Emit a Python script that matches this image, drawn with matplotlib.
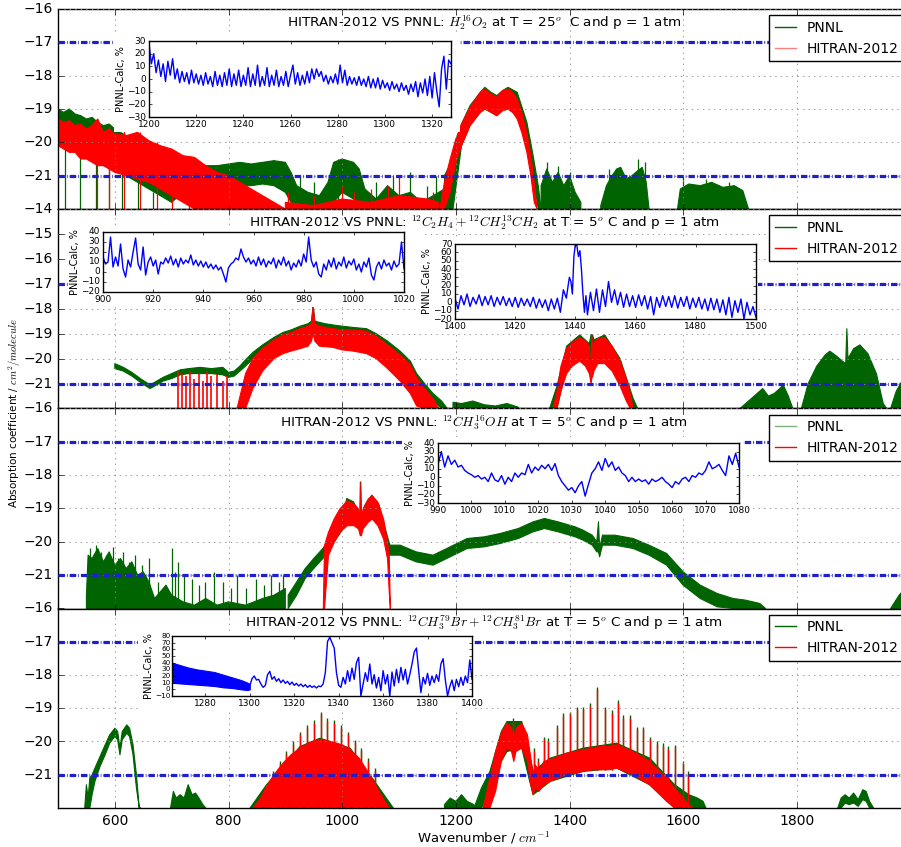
import numpy as np
import matplotlib
matplotlib.use('Agg')
import matplotlib.pyplot as plt
from matplotlib.patches import Rectangle
from matplotlib.lines import Line2D

plt.style.use('classic')
plt.rcParams['font.family'] = ['DejaVu Sans']
plt.rcParams['mathtext.fontset'] = 'cm'
plt.rcParams['figure.facecolor'] = 'white'
plt.rcParams['savefig.facecolor'] = 'white'

N = np.nan
GREEN = '#006400'
RED = '#ff0000'
BLUE = '#1f1fcc'

# ---------------- panel 1: H2O2 ----------------
h2o2_pnnl_x = [500, 510, 520, 530, 540, 550, 560, 570, 580, 590, 600, 610, 620, 630, 640, 650, 660, 670, 680, 690, 700, N,
               700, 720, 740, 760, 780, 800, 820, 840, 860, 880, 900, 910, 920, 940, 960, 975, 985, 1000, 1010, 1020, 1030, 1040, N,
               1040, 1060, 1080, 1100, 1120, 1140, 1160, 1180, N,
               1180, 1195, 1210, 1225, 1243, 1251, 1262, 1272, 1282, 1292, 1308, 1325, 1336, 1345, 1350, N,
               1350, 1360, 1370, 1380, 1390, 1400, 1410, 1420, N,
               1455, 1465, 1475, 1483, 1490, 1500, 1510, 1520, 1528, 1535, 1540, N,
               1590, 1595, 1610, 1630, 1650, 1670, 1690, 1705, 1715]
h2o2_pnnl_hi = [-19.0, -19.1, -19.0, -19.15, -19.2, -19.3, -19.25, -19.4, -19.5, -19.45, -19.6, -19.7, -19.8, -19.85, -19.95, -20.1, -20.2, -20.35, -20.5, -20.6, -20.7, N,
                -20.9, -20.7, -20.75, -20.7, -20.7, -20.65, -20.6, -20.65, -20.6, -20.55, -20.6, -20.9, -21.3, -21.5, -21.6, -21.2, -20.6, -20.5, -20.55, -20.6, -20.8, -21.4, N,
                -21.4, -21.7, -21.3, -21.6, -21.5, -21.8, -21.6, -21.4, N,
                -21.0, -20.5, -19.45, -18.9, -18.5, -18.35, -18.5, -18.6, -18.45, -18.35, -18.5, -19.4, -20.4, -21.3, -22, N,
                -21.3, -20.8, -21.2, -20.9, -21.3, -21.0, -21.5, -21.8, N,
                -21.9, -21.3, -21.0, -20.8, -20.75, -21.1, -21.0, -20.85, -20.75, -21.2, -22, N,
                -22, -21.4, -21.25, -21.3, -21.2, -21.35, -21.3, -21.45, -22]
h2o2_pnnl_lo = [-19.9, -20.0, -20.2, -20.1, -20.3, -20.4, -20.5, -20.6, -20.7, -20.6, -20.8, -20.9, -21.0, -21.1, -21.2, -21.3, -21.4, -21.5, -21.6, -21.7, -21.8, N,
                -21.8, -21.5, -21.3, -21.35, -21.3, -21.3, -21.3, -21.3, -21.25, -21.3, -21.5, -21.8, -22, -22, -22, -22, -21.8, -21.5, -21.6, -21.7, -21.9, -22, N,
                -22, -22, -22, -22, -22, -22, -22, -22, N,
                -22, -22, -20.1, -19.5, -19.1, -19.0, -19.1, -19.2, -19.05, -19.0, -19.2, -20.1, -21.0, -22, -22, N,
                -22, -22, -22, -22, -22, -22, -22, -22, N,
                -22, -22, -22, -22, -22, -22, -22, -22, -22, -22, -22, N,
                -22, -22, -22, -22, -22, -22, -22, -22, -22]
h2o2_pnnl_spike_x = [512, 538, 566, 590, 612, 640, 668, 905, 925, 950, 992, 1060, 1090, 1120, 1150, 1165,
                     1360, 1380, 1400, 1470, 1520, 1532, 1600, 1640, 1680]
h2o2_pnnl_spike_top = [-20.0, -20.2, -20.5, -20.6, -20.9, -21.2, -21.5, -20.9, -21.0, -21.2, -20.5, -21.2, -21.0, -20.9, -21.3, -21.0,
                       -20.6, -20.7, -20.9, -20.8, -20.5, -20.6, -21.0, -21.1, -21.2]

h2o2_hitran_x = [500, 510, 520, 530, 540, 550, 560, 570, 580, 590, 600, 620, 640, 660, 680, 700, 720, 740, 760, 780, 800, 820, 840, 860, 880, 900, N,
                 900, 950, 1000, 1050, 1100, 1150, 1170, N,
                 1172, 1180, 1190, 1200, 1210, 1225, 1243, 1251, 1262, 1272, 1282, 1292, 1300, 1308, 1316, 1325, 1332, 1338, 1343]
h2o2_hitran_hi = [-19.3, -19.4, -19.35, -19.5, -19.45, -19.6, -19.5, -19.3, -19.7, -19.6, -19.75, -19.8, -19.7, -19.95, -20.1, -20.2, -20.4, -20.45, -20.7, -20.9, -21.0, -21.2, -21.4, -21.6, -21.8, -22.0, N,
                  -21.8, -21.9, -21.7, -21.8, -21.6, -21.7, -21.8, N,
                  -22, -21.2, -20.5, -19.9, -19.45, -18.95, -18.5, -18.4, -18.55, -18.65, -18.45, -18.4, -18.5, -18.7, -19.1, -19.7, -20.4, -21.2, -22]
h2o2_hitran_lo = [-20.1, -20.2, -20.3, -20.3, -20.5, -20.5, -20.6, -20.7, -20.7, -20.8, -20.9, -21.0, -21.1, -21.2, -21.4, -21.6, -21.8, -22, -22, -22, -22, -22, -22, -22, -22, -22, N,
                  -22, -22, -22, -22, -22, -22, -22, N,
                  -22, -22, -21.5, -20.6, -20.1, -19.5, -19.1, -19.0, -19.1, -19.2, -19.05, -19.0, -19.1, -19.3, -19.7, -20.3, -21.0, -21.8, -22]
h2o2_hitran_spike_x = [568, 590, 616, 644, 674, 700, 730, 905, 950, 1000, 1020, 1050, 1080, 1100, 1120, 1140, 1160]
h2o2_hitran_spike_top = [-19.3, -19.5, -19.6, -19.7, -20.0, -20.3, -20.5, -21.5, -21.6, -21.3, -21.5, -21.4, -21.3, -21.0, -21.6, -21.7, -21.5]

# ---------------- panel 2: C2H4 ----------------
c2h4_pnnl_x = [600, 615, 630, 645, 655, 662, 670, 685, 700, 715, 730, 750, 770, 790, 800, 810, 820, 830, 843, 860, 880, 896, 910, 926,
               940, 946, 949, 952, 970, 984, 1000, 1020, 1043, 1060, 1080, 1102, 1120, 1131, 1145, 1160, 1175, 1185, N,
               1195, 1210, 1230, 1250, 1270, 1290, 1310, N,
               1365, 1378, 1395, 1418, 1435, 1439, 1443, 1462, 1489, 1512, 1520, N,
               1700, 1715, 1730, 1740, 1750, 1760, 1770, 1776, 1785, 1793, N,
               1808, 1820, 1835, 1850, 1858, 1870, 1880, 1886, 1888, 1890, 1900, 1911, 1925, 1940, 1952, 1958, N,
               1965, 1975, 1985, 2000]
c2h4_pnnl_hi = [-20.2, -20.35, -20.55, -20.8, -20.95, -21.05, -20.95, -20.75, -20.6, -20.45, -20.4, -20.35, -20.4, -20.35, -20.55, -20.5, -20.3, -20.05, -19.75, -19.45, -19.15, -18.95, -18.85, -18.7,
                -18.6, -18.5, -17.85, -18.5, -18.6, -18.65, -18.7, -18.75, -18.8, -19.0, -19.3, -19.7, -20.1, -20.6, -21.0, -21.4, -21.7, -22, N,
                -21.75, -21.8, -21.7, -21.85, -21.9, -21.8, -21.95, N,
                -22, -21.1, -19.5, -19.05, -19.4, -18.9, -19.25, -19.05, -20.0, -21.6, -22, N,
                -22, -21.7, -21.4, -21.2, -21.5, -21.4, -21.2, -21.05, -21.5, -22, N,
                -22, -21.0, -20.3, -19.85, -19.7, -19.9, -20.1, -20.2, -18.8, -20.0, -19.6, -19.45, -19.8, -20.6, -21.8, -22, N,
                -22, -21.3, -20.9, -20.5]
c2h4_pnnl_lo = [-20.4, -20.5, -20.7, -20.95, -21.1, -21.2, -21.1, -20.9, -20.8, -20.65, -20.6, -20.6, -20.6, -20.65, -20.75, -20.7, -20.5, -20.3, -20.0, -19.7, -19.4, -19.25, -19.1, -19.0,
                -18.9, -18.8, -18.7, -18.8, -18.9, -18.95, -19.0, -19.05, -19.1, -19.3, -19.6, -20.0, -20.4, -20.9, -21.3, -21.7, -22, -22, N,
                -22, -22, -22, -22, -22, -22, -22, N,
                -22, -22, -20.3, -19.9, -20.3, -20.2, -20.1, -19.9, -20.9, -22, -22, N,
                -22, -22, -22, -22, -22, -22, -22, -22, -22, -22, N,
                -22, -22, -22, -22, -22, -22, -22, -22, -22, -22, -22, -22, -22, -22, -22, -22, N,
                -22, -22, -22, -22]

c2h4_hitran_x = [815, 830, 843, 860, 880, 896, 910, 926, 940, 946, 949, 952, 960, 984, 1000, 1020, 1043, 1060, 1080, 1102, 1120, 1131, 1145, 1160, 1170, N,
                 1371, 1378, 1385, 1395, 1405, 1418, 1428, 1435, 1438, 1439, 1441, 1443, 1450, 1462, 1475, 1489, 1500, 1507, 1512]
c2h4_hitran_hi = [-22, -20.6, -20.0, -19.6, -19.25, -19.05, -18.95, -18.8, -18.7, -18.6, -17.9, -18.6, -18.7, -18.8, -18.85, -18.85, -18.9, -19.1, -19.45, -19.85, -20.25, -20.75, -21.2, -21.6, -22, N,
                  -22, -21.3, -20.3, -19.6, -19.35, -19.15, -19.3, -19.5, -20.9, -18.95, -19.6, -19.35, -19.2, -19.15, -19.5, -20.1, -20.8, -21.4, -22]
c2h4_hitran_lo = [-22, -22, -21.2, -20.5, -20.0, -19.8, -19.7, -19.6, -19.5, -19.3, -19.0, -19.3, -19.5, -19.55, -19.65, -19.7, -19.8, -20.0, -20.4, -20.9, -21.4, -21.9, -22, -22, -22, N,
                  -22, -22, -21.3, -20.6, -20.3, -20.1, -20.3, -20.6, -21.0, -20.8, -20.7, -20.5, -20.2, -20.2, -20.5, -21.1, -21.7, -22, -22]
c2h4_hitran_spike_x = [712, 718, 725, 732, 740, 748, 755, 762, 770, 780, 790, 797]
c2h4_hitran_spike_top = [-20.5, -20.6, -20.7, -20.5, -20.8, -20.6, -20.9, -20.5, -20.7, -20.6, -20.9, -20.7]

# ---------------- panel 3: CH3OH ----------------
ch3oh_pnnl_x = [550, 553, 560, 570, 580, 590, 600, 610, 620, 630, 640, 650, 660, 670, 680, 690, 700, 720, 740, 760, 780, 800, 830, 860, 880, 900, N,
                905, 920, 935, 950, 966, 984, 1000, 1008, 1020, 1031, 1032, 1034, 1040, 1052, 1065, 1079, 1084, 1102, 1130, 1160, 1190, 1220, 1250,
                1278, 1310, 1336, 1356, 1380, 1410, 1424, 1440, 1448, 1451, 1453, 1458, 1480, 1512, 1540, 1571, 1600, 1630, 1660, 1688, 1710, 1735, 1745, N,
                1965, 1980, 2000]
ch3oh_pnnl_hi = [-21.6, -20.4, -20.5, -20.2, -20.6, -20.3, -20.7, -20.5, -20.8, -20.6, -21.0, -20.9, -21.2, -21.7, -21.5, -21.3, -21.6, -21.8, -21.9, -21.7, -21.9, -21.8, -21.9, -21.7, -21.6, -21.4, N,
                 -21.6, -21.2, -20.8, -20.5, -20.2, -19.75, -19.35, -18.7, -18.8, -19.2, -18.2, -19.25, -18.9, -18.6, -18.9, -19.8, -20.1, -20.1, -20.3, -20.4, -20.15, -19.9, -19.85,
                 -19.75, -19.6, -19.4, -19.3, -19.4, -19.55, -19.65, -19.8, -20.0, -19.4, -20.2, -19.8, -19.8, -19.9, -20.1, -20.35, -20.9, -21.3, -21.55, -21.7, -21.75, -21.85, -22, N,
                 -22, -21.6, -21.2]
ch3oh_pnnl_lo = [-22, -22, -22, -22, -22, -22, -22, -22, -22, -22, -22, -22, -22, -22, -22, -22, -22, -22, -22, -22, -22, -22, -22, -22, -22, -22, N,
                 -22, -21.6, -21.1, -20.8, -20.5, -20.05, -19.65, -19.1, -19.2, -19.6, -19.6, -19.65, -19.3, -19.0, -19.3, -20.15, -20.4, -20.4, -20.6, -20.7, -20.45, -20.2, -20.15,
                 -20.05, -19.9, -19.7, -19.6, -19.7, -19.85, -19.95, -20.1, -20.3, -20.3, -20.45, -20.1, -20.1, -20.2, -20.4, -20.7, -21.3, -21.7, -21.95, -22, -22, -22, -22, N,
                 -22, -22, -22]
ch3oh_pnnl_spike_x = [556, 566, 575, 585, 596, 605, 615, 625, 636, 648, 660, 676, 700, 706, 712, 722, 735, 748, 758, 775, 790, 804, 815, 830, 848, 862, 875, 888, 896]
ch3oh_pnnl_spike_top = [-20.2, -20.1, -20.3, -20.4, -20.15, -20.5, -20.3, -20.6, -20.4, -20.7, -20.5, -21.2, -20.2, -20.9, -20.6, -21.0, -21.1, -21.3, -21.2, -20.9, -21.2, -21.4, -21.0, -21.4, -21.1, -21.3, -21.0, -21.2, -21.0]

ch3oh_hitran_x = [966, 968, 975, 985, 995, 1008, 1020, 1028, 1031, 1032, 1033, 1036, 1045, 1052, 1062, 1072, 1079, 1082, 1084]
ch3oh_hitran_hi = [-22, -20.1, -19.7, -19.3, -19.0, -18.75, -18.85, -19.0, -19.3, -18.2, -19.3, -19.0, -18.7, -18.6, -18.8, -19.3, -20.0, -20.4, -22]
ch3oh_hitran_lo = [-22, -22, -20.4, -20.0, -19.7, -19.5, -19.5, -19.6, -19.8, -19.8, -19.8, -19.6, -19.4, -19.3, -19.5, -19.9, -20.5, -21.5, -22]

# ---------------- panel 4: CH3Br ----------------
ch3br_pnnl_x = [547, 550, 553, 556, 560, 565, 574, 583, 591, 600, 605, 609, 613, 621, 626, 632, 638, 643, 645, N,
                698, 703, 708, 715, 722, 729, 736, 742, 748, 755, 760, N,
                838, 867, 926, 961, 1014, 1055, 1090, N,
                1180, 1190, 1200, 1210, 1220, 1232, N,
                1232, 1245, 1260, 1280, 1290, 1316, 1330, 1336, 1366, 1424, 1483, 1541, 1585, 1610, 1625, 1635, 1640, N,
                1872, 1878, 1885, 1892, 1900, 1908, 1916, 1922, 1928, 1935]
ch3br_pnnl_hi = [-22, -21.3, -21.7, -21.1, -21.0, -20.8, -20.45, -20.1, -19.8, -19.6, -19.7, -20.2, -19.7, -19.5, -19.6, -20.1, -21.0, -22, -22, N,
                 -22, -21.5, -21.7, -21.6, -21.7, -21.3, -21.6, -21.55, -21.7, -21.9, -22, N,
                 -22, -21.3, -20.15, -19.9, -20.2, -21.15, -22, N,
                 -21.9, -21.7, -21.8, -21.6, -21.8, -21.9, N,
                 -22, -21.4, -20.9, -19.7, -19.4, -19.4, -20.4, -20.9, -20.5, -20.2, -20.05, -20.5, -21.3, -21.6, -21.7, -21.8, -22, N,
                 -22, -21.7, -21.6, -21.7, -21.55, -21.75, -21.45, -21.5, -21.8, -22]
ch3br_pnnl_lo = [-22, -22, -22, -22, -21.6, -21.2, -20.75, -20.4, -20.05, -19.85, -19.95, -20.4, -19.95, -19.75, -19.85, -20.4, -21.4, -22, -22, N,
                 -22, -22, -22, -22, -22, -22, -22, -22, -22, -22, -22, N,
                 -22, -22, -22, -22, -22, -22, -22, N,
                 -22, -22, -22, -22, -22, -22, N,
                 -22, -22, -21.6, -20.6, -20.3, -20.2, -21.2, -21.6, -21.2, -20.9, -20.8, -21.3, -22, -22, -22, -22, -22, N,
                 -22, -22, -21.85, -21.9, -21.85, -21.95, -21.75, -21.8, -22, -22]

ch3br_hitran_x = [843, 855, 867, 880, 896, 910, 926, 940, 961, 980, 1000, 1014, 1030, 1043, 1055, 1065, 1075, 1084, N,
                  1248, 1260, 1270, 1280, 1290, 1298, 1302, 1306, 1316, 1326, 1332, 1336, 1340, 1346, 1355, 1366, 1380, 1395, 1410, 1424,
                  1440, 1455, 1470, 1483, 1497, 1512, 1526, 1541, 1556, 1571, 1585, 1600, 1610, 1618]
ch3br_hitran_hi = [-22, -21.75, -21.35, -21.0, -20.65, -20.4, -20.2, -20.05, -19.95, -20.0, -20.1, -20.25, -20.5, -20.85, -21.2, -21.5, -21.8, -22, N,
                   -22, -21.1, -20.3, -19.75, -19.45, -19.6, -19.9, -19.6, -19.45, -19.8, -20.5, -21.0, -20.7, -20.9, -20.6, -20.55, -20.45, -20.35, -20.3, -20.25,
                   -20.2, -20.15, -20.15, -20.1, -20.2, -20.3, -20.45, -20.6, -20.85, -21.1, -21.4, -21.7, -21.9, -22]
ch3br_hitran_lo = [-22, -22, -22, -22, -22, -22, -22, -22, -22, -22, -22, -22, -22, -22, -22, -22, -22, -22, N,
                   -22, -22, -21.5, -20.6, -20.2, -20.3, -20.6, -20.3, -20.2, -20.6, -21.3, -21.6, -21.4, -21.5, -21.3, -21.2, -21.1, -21.0, -20.95, -20.9,
                   -20.85, -20.85, -20.85, -20.8, -20.9, -21.0, -21.15, -21.3, -21.55, -21.8, -22, -22, -22, -22]
ch3br_spike_x = [878, 890, 902, 914, 926, 938, 950, 962, 974, 986, 998, 1010, 1022, 1034, 1046, 1058,
                 1300, 1337, 1345, 1356, 1362, 1378, 1389, 1401, 1413, 1424, 1436, 1449, 1462, 1475, 1486, 1494,
                 1507, 1519, 1529, 1541, 1554, 1564, 1573, 1586, 1600, 1608]
ch3br_spike_top = [-20.9, -20.6, -20.3, -20.0, -19.7, -19.5, -19.35, -19.1, -19.3, -19.35, -19.5, -19.7, -19.95, -20.2, -20.5, -20.8,
                   -19.3, -20.2, -20.5, -19.85, -19.9, -19.5, -19.15, -19.1, -18.95, -18.95, -18.85, -18.35, -18.95, -19.05, -18.75, -19.2,
                   -19.2, -19.55, -19.55, -19.85, -20.0, -20.05, -20.15, -20.1, -20.6, -20.9]
ch3br_spike_base = [-22, -22, -22, -22, -22, -22, -22, -22, -22, -22, -22, -22, -22, -22, -22, -22,
                    -20.2, -21.4, -21.5, -21.3, -21.2, -21.1, -21.0, -20.95, -20.9, -20.9, -20.85, -20.85, -20.85, -20.85, -20.8, -20.85,
                    -20.9, -21.0, -21.1, -21.2, -21.35, -21.5, -21.6, -21.8, -22, -22]

# ---------------- insets: PNNL-Calc, % ----------------
ins1_x = list(range(1200, 1329))
ins1_y = [28, 12, 20, 5, 15, 2, 12, -2, 14, 3, 16, 0, 8, -3, 6, -2, 5, -4, 7, -3,
          4, -4, 3, -5, 5, -4, 2, -6, 6, -5, 3, -6, 5, -5, 8, -6, 4, -5, 7, -6,
          3, -5, 9, -6, 4, -5, 11, -6, 2, -5, 9, -6, 3, -5, 7, -6, 2, -5, 6, -6,
          3, 11, -4, 5, -5, 3, -4, 6, -3, 8, 0, 8, 2, 6, -2, 3, -4, 2, -3, 4,
          -4, 11, -3, 7, -5, 2, -4, 1, -5, 2, -5, 0, -6, 2, -7, 0, -7, 1, -8, -1,
          -7, -3, -9, -2, -8, -4, -10, -3, -9, -5, -12, -4, -10, -2, -14, -3, -11, 0, -13, 2,
          -15, 5, -10, -22, 8, 18, -8, 15, 12]

ins2a_x = list(range(900, 1021))
ins2a_y = [15, 8, 10, 35, 5, 15, 6, 28, 3, -5, 12, 5, 20, 34, 8, 2, 25, -3, 10, 15,
           6, 12, -2, 10, 8, 14, 9, 16, 7, 13, 5, 14, 8, 12, 9, 17, 7, 12, 6, 11,
           5, 10, 4, 8, 3, 7, 2, 5, -2, -10, 4, 8, 10, 14, 12, 23, 15, 10, 14, 8,
           12, 6, 15, 7, 13, 5, 11, 8, 14, 4, 12, 7, 15, 6, 11, 2, 9, 5, 12, 6,
           18, 10, 35, 12, 5, 10, -2, -5, 8, 2, 12, 5, 14, 3, 10, 6, 15, 4, 11, 7,
           13, 2, 8, 0, 10, 5, 14, -3, -8, 5, 10, 3, 12, 6, 9, 2, 11, 5, 8, 30, 3]

ins2b_x = [1400, 1401, 1402, 1403, 1404, 1405, 1406, 1407, 1408, 1409, 1410, 1411, 1412, 1413, 1414, 1415, 1416, 1417, 1418, 1419,
           1420, 1421, 1422, 1423, 1424, 1425, 1426, 1427, 1428, 1429, 1430, 1431, 1432, 1433, 1434, 1435, 1436, 1437, 1437.5, 1438,
           1438.5, 1439, 1439.5, 1440, 1440.5, 1441, 1441.5, 1442, 1442.5, 1443, 1443.5, 1444, 1445, 1446, 1447, 1448, 1449, 1450, 1451, 1452,
           1453, 1454, 1455, 1456, 1457, 1458, 1459, 1460, 1461, 1462, 1463, 1464, 1465, 1466, 1467, 1468, 1469, 1470, 1471, 1472,
           1473, 1474, 1475, 1476, 1477, 1478, 1479, 1480, 1481, 1482, 1483, 1484, 1485, 1486, 1487, 1488, 1489, 1490, 1491, 1492,
           1493, 1494, 1495, 1496, 1497, 1498, 1499, 1500]
ins2b_y = [5, -8, 8, -3, 10, -5, 6, -2, 9, -4, 7, -3, 8, -5, 6, -3, 7, -4, 5, -5,
           6, -6, 5, -4, 4, -5, 6, -7, 4, -6, 3, -10, 4, -8, 5, -12, 15, 5, 18, 30,
           25, 10, 55, 70, 68, 55, 62, 40, 10, -12, 8, -15, 12, -10, 16, -12, 15, -5, 25, 0,
           15, -3, 12, -6, 10, -5, 8, -6, 9, -4, 8, -8, 7, -15, 6, -6, 8, -5, 7, -6,
           8, -7, 6, -5, 7, -8, 5, -6, 6, -8, 4, -10, 5, -9, 4, -12, 3, -15, 6, -18,
           2, -12, 4, -20, 0, -15, -5, -18]

ins3_x = list(range(990, 1081))
ins3_y = [15, 30, 12, 25, 15, 20, 12, 14, 8, 5, 3, 0, 2, -2, 0, -5, 5, -3, -5, 2,
          -8, 0, -5, 5, 0, 5, 3, 15, 5, 12, 8, 14, 10, 15, 8, 16, 2, -5, -10, -15,
          -12, -18, -10, -5, -22, -8, 5, 10, 18, 8, 22, 12, 18, 8, 12, 5, 2, -5, 0, -5,
          -2, -5, -3, -8, -2, -5, -3, 0, -5, -8, -12, -5, -8, -2, 0, -5, 2, 0, 5, 3,
          8, 18, 10, 12, 15, 8, 2, 25, 15, 28, 12]

ins4_band_x = [1265, 1268, 1272, 1276, 1280, 1284, 1288, 1292, 1296, 1299, 1300]
ins4_band_hi = [40, 37, 33, 30, 28, 26, 22, 18, 14, 10, 8]
ins4_band_lo = [10, 9, 8, 7, 6, 5, 3, 2, 0, -1, 0]
ins4_x = list(range(1300, 1401))
ins4_y = [5, 16, 20, 14, 15, 8, 3, 6, 22, 27, 15, 19, 12, 16, 10, 14, 9, 12, 7, 11,
          6, 9, 5, 8, 4, 7, 3, 6, 3, 5, 2, 5, 4, 8, 25, 72, 78, 70, 62, 25,
          6, 3, 18, 8, 28, 12, 32, 15, 40, 48, -10, 8, 25, 12, 38, 8, 22, 2, 18, -2,
          28, 8, 22, -10, 26, 5, 30, 10, 33, 14, 30, 8, 22, 38, 56, 62, 28, -5, 18, 8,
          24, 6, 20, 10, 22, 12, 38, 46, 14, -10, 4, 14, -2, 15, 4, 18, 6, 20, 10, 44, 15]

titles = [r'HITRAN-2012 VS PNNL: $H_2^{16}O_2$ at T = 25$^o$  C and p = 1 atm',
          r'HITRAN-2012 VS PNNL: $^{12}C_2H_4+^{12}CH_2^{13}CH_2$ at T = 5$^o$ C and p = 1 atm',
          r'HITRAN-2012 VS PNNL: $^{12}CH_3^{16}OH$ at T = 5$^o$ C and p = 1 atm',
          r'HITRAN-2012 VS PNNL: $^{12}CH_3^{79}Br+^{12}CH_3^{81}Br$ at T = 5$^o$ C and p = 1 atm']

# ---------------- layout in pixels ----------------
W, H = 901, 847


def rect(x0, y0, x1, y1):
    return [x0 / W, 1 - y1 / H, (x1 - x0) / W, (y1 - y0) / H]


fig = plt.figure(figsize=(W / 100, H / 100), dpi=100)

panel_px = [(9, 209), (209, 408.5), (408.5, 608.5), (608.5, 808)]
ylims = [(-22, -16), (-22, -14), (-22, -16), (-22, -16)]
legend_alpha = [(1, 0.5), (1, 1), (0.5, 1), (1, 1)]
dash = (0, (4.6, 1.5, 0.5, 1.5))
axes = []
for i, (t, b) in enumerate(panel_px):
    ax = fig.add_axes(rect(58, t, 910.5, b), zorder=0)
    ax.set_xlim(500, 2000)
    ax.set_ylim(*ylims[i])
    ax.set_yticks(np.arange(-21, ylims[i][1] + 1))
    ax.set_xticks(np.arange(600, 1900, 200))
    ax.grid(True, color='0.55', linestyle=':', linewidth=0.6)
    ax.tick_params(labelsize=10)
    if i < 3:
        ax.tick_params(labelbottom=False)
    ax.axhline(-17, color=BLUE, lw=2.3, linestyle=dash, zorder=5)
    ax.axhline(-21, color=BLUE, lw=2.3, linestyle=dash, zorder=5)
    ax.text(0.5, 1 - 14 / 200, titles[i], transform=ax.transAxes, ha='center', va='center', fontsize=9.7)
    handles = [Line2D([], [], color=GREEN, alpha=legend_alpha[i][0]),
               Line2D([], [], color=RED, alpha=legend_alpha[i][1])]
    leg = ax.legend(handles, ['PNNL', 'HITRAN-2012'], loc='upper right', fontsize=10,
                    handlelength=1.5, numpoints=1, borderaxespad=0.45, fancybox=False)
    leg.get_frame().set_linewidth(1.0)
    leg.set_zorder(6)
    axes.append(ax)


def band(ax, x, hi, lo, color):
    x, hi, lo = (np.array(v, dtype=float) for v in (x, hi, lo))
    ax.fill_between(x, lo, hi, color=color, edgecolor=color, linewidth=0.8, zorder=2)


band(axes[0], h2o2_pnnl_x, h2o2_pnnl_hi, h2o2_pnnl_lo, GREEN)
axes[0].vlines(h2o2_pnnl_spike_x, -22, h2o2_pnnl_spike_top, color=GREEN, lw=0.9, zorder=2)
band(axes[0], h2o2_hitran_x, h2o2_hitran_hi, h2o2_hitran_lo, RED)
axes[0].vlines(h2o2_hitran_spike_x, -22, h2o2_hitran_spike_top, color=RED, lw=0.9, zorder=3)

band(axes[1], c2h4_pnnl_x, c2h4_pnnl_hi, c2h4_pnnl_lo, GREEN)
axes[1].vlines(c2h4_hitran_spike_x, -22, c2h4_hitran_spike_top, color=RED, lw=1.2, zorder=3)
band(axes[1], c2h4_hitran_x, c2h4_hitran_hi, c2h4_hitran_lo, RED)

band(axes[2], ch3oh_pnnl_x, ch3oh_pnnl_hi, ch3oh_pnnl_lo, GREEN)
axes[2].vlines(ch3oh_pnnl_spike_x, -22, ch3oh_pnnl_spike_top, color=GREEN, lw=0.9, zorder=2)
band(axes[2], ch3oh_hitran_x, ch3oh_hitran_hi, ch3oh_hitran_lo, RED)

band(axes[3], ch3br_pnnl_x, ch3br_pnnl_hi, ch3br_pnnl_lo, GREEN)
axes[3].vlines(ch3br_spike_x, ch3br_spike_base, ch3br_spike_top, color=GREEN, lw=1.0, zorder=2)
band(axes[3], ch3br_hitran_x, ch3br_hitran_hi, ch3br_hitran_lo, RED)
axes[3].vlines(ch3br_spike_x, ch3br_spike_base, np.array(ch3br_spike_top) - 0.08, color=RED, lw=1.0, zorder=3)

# insets with white backing
insets = [
    ((149, 41, 451, 117), ins1_x, ins1_y, (1200, 1328), (-30, 30), range(1200, 1321, 20), range(-30, 31, 10), (35, 7, 9, 15)),
    ((103, 232, 404, 292), ins2a_x, ins2a_y, (900, 1020), (-20, 40), range(900, 1021, 20), range(-20, 41, 10), (35, 3, 17, 15)),
    ((455, 244, 756, 319), ins2b_x, ins2b_y, (1400, 1500), (-20, 70), range(1400, 1501, 20), range(-20, 71, 10), (35, 4, 2, 15)),
    ((438, 443, 739, 503), ins3_x, ins3_y, (990, 1080), (-30, 40), range(990, 1081, 10), range(-30, 41, 10), (36, 6, 4, 15)),
    ((172, 636, 472, 696), ins4_x, ins4_y, (1265, 1400), (-10, 80), range(1280, 1401, 20), range(-10, 81, 10), (34, 4, 1, 15)),
]
for k, (r, x, y, xl, yl, xt, yt, m) in enumerate(insets):
    x0, y0, x1, y1 = r
    fig.add_artist(Rectangle(((x0 - m[0]) / W, 1 - (y1 + m[3]) / H),
                             (x1 - x0 + m[0] + m[2]) / W, (y1 - y0 + m[1] + m[3]) / H,
                             transform=fig.transFigure, facecolor='white', edgecolor='none', zorder=1))
    ins = fig.add_axes(rect(x0, y0, x1, y1), zorder=2)
    if k == 4:
        ins.fill_between(ins4_band_x, ins4_band_lo, ins4_band_hi, color='#0000ff', linewidth=0.8)
    ins.plot(x, y, color='#0000ff', lw=1.0)
    ins.set_xlim(*xl)
    ins.set_ylim(*yl)
    ins.set_xticks(list(xt))
    ins.set_yticks(list(yt))
    ins.ticklabel_format(useOffset=False)
    ins.tick_params(labelsize=6.5, length=2.5, pad=2)
    if k == 4:
        ins.tick_params(axis='y', labelsize=5.2, pad=1)
    ins.set_ylabel('PNNL-Calc, %', fontsize=7, labelpad=1)

fig.text(15 / W, 1 - 413 / H, 'Absorption coefficient / $cm^2/molecule$', rotation=90,
         ha='center', va='center', fontsize=7.5)
fig.text(484 / W, 1 - 838 / H, 'Wavenumber / $cm^{-1}$', ha='center', va='center', fontsize=9.5)

fig.savefig('out.png', dpi=100)
